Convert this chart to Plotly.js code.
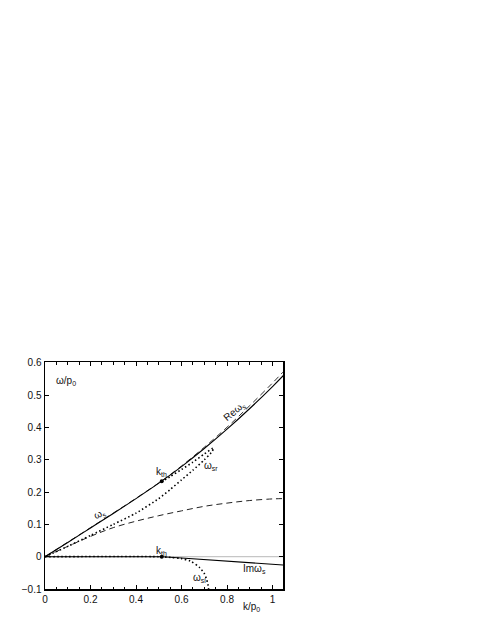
<!DOCTYPE html>
<html>
<head>
<meta charset="utf-8">
<script src="https://cdn.plot.ly/plotly-3.0.1.min.js"></script>
<style>html,body{margin:0;padding:0;background:#fff;}#plot{width:491px;height:635px;}</style>
</head>
<body>
<div id="plot"></div>
<script>
// Re ω_s (solid)
var kRe = [0, 0.1, 0.2, 0.3, 0.4, 0.513, 0.6, 0.7, 0.8, 0.9, 1.0, 1.05];
var reOmegaS = [0, 0.044, 0.089, 0.134, 0.18, 0.234, 0.279, 0.335, 0.395, 0.459, 0.527, 0.563];
// upper dashed (approximation of Re ω_s)
var kDashUp = [0, 0.1, 0.2, 0.3, 0.4, 0.513, 0.6, 0.7, 0.8, 0.9, 1.0, 1.05];
var dashUp = [0, 0.045, 0.09, 0.135, 0.181, 0.235, 0.281, 0.339, 0.401, 0.468, 0.538, 0.575];
// lower dashed
var kDashLow = [0, 0.1, 0.2, 0.3, 0.4, 0.5, 0.6, 0.7, 0.8, 0.9, 1.0, 1.05];
var dashLow = [0, 0.032, 0.063, 0.09, 0.11, 0.127, 0.142, 0.156, 0.166, 0.174, 0.179, 0.18];
// ω_sr (dotted, folds back)
var kSr = [0, 0.1, 0.2, 0.3, 0.4, 0.5, 0.55, 0.6, 0.65, 0.7, 0.73, 0.742, 0.735, 0.7, 0.65, 0.6, 0.55, 0.513];
var omegaSr = [0, 0.032, 0.066, 0.1, 0.135, 0.18, 0.208, 0.238, 0.268, 0.3, 0.322, 0.336, 0.335, 0.318, 0.293, 0.27, 0.248, 0.231];
// Im ω_s (solid)
var kIm = [0, 0.513, 0.6, 0.7, 0.8, 0.9, 1.0, 1.05];
var imOmegaS = [0, 0, -0.004, -0.009, -0.014, -0.019, -0.024, -0.026];
// ω_si (dotted)
var kSi = [0, 0.5, 0.55, 0.6, 0.64, 0.68, 0.7, 0.71, 0.716, 0.719];
var omegaSi = [0, 0, -0.002, -0.006, -0.014, -0.034, -0.052, -0.07, -0.086, -0.1];
// zero reference line
var kZero = [0, 1.05];
var zeroLine = [0, 0];
// k_th markers
var kTh = [0.513, 0.513];
var thVals = [0.234, 0];

var xTicks = [0, 0.2, 0.4, 0.6, 0.8, 1];
var xTickText = ['0', '0.2', '0.4', '0.6', '0.8', '1'];
var yTicks = [-0.1, 0, 0.1, 0.2, 0.3, 0.4, 0.5, 0.6];
var yTickText = ['\u22120.1', '0', '0.1', '0.2', '0.3', '0.4', '0.5', '0.6'];

var traces = [
  {x: kZero, y: zeroLine, mode: 'lines', line: {color: '#b8b8b8', width: 1}},
  {x: kDashLow, y: dashLow, mode: 'lines', line: {color: '#222', width: 1, dash: '6px,4px', shape: 'spline', smoothing: 1}},
  {x: kDashUp, y: dashUp, mode: 'lines', line: {color: '#333', width: 1, dash: '6px,4px', shape: 'spline', smoothing: 1}},
  {x: kRe, y: reOmegaS, mode: 'lines', line: {color: '#000', width: 1.1, shape: 'spline', smoothing: 1}},
  {x: kIm, y: imOmegaS, mode: 'lines', line: {color: '#000', width: 1.1}},
  {x: kSr, y: omegaSr, mode: 'lines', line: {color: '#000', width: 1.6, dash: '1.5px,2.5px', shape: 'spline', smoothing: 0.6}},
  {x: kSi, y: omegaSi, mode: 'lines', line: {color: '#000', width: 1.6, dash: '1.5px,2.5px', shape: 'spline', smoothing: 0.8}},
  {x: kTh, y: thVals, mode: 'markers', marker: {color: '#000', size: 4}}
];

var f = {family: 'Liberation Sans, Arial, sans-serif', size: 10, color: '#111'};
function ann(x, y, t, extra) {
  var a = {x: x, y: y, xref: 'x', yref: 'y', text: t, showarrow: false, font: f};
  for (var k in extra) a[k] = extra[k];
  return a;
}

var layout = {
  width: 491, height: 635,
  margin: {l: 45, r: 208, t: 362, b: 46},
  paper_bgcolor: '#fff', plot_bgcolor: '#fff',
  showlegend: false,
  font: f,
  xaxis: {
    range: [0, 1.046], tickvals: xTicks, ticktext: xTickText,
    ticks: 'inside', ticklen: 4, tickcolor: '#000', tickwidth: 1,
    minor: {dtick: 0.05, ticks: 'inside', ticklen: 2.5, tickcolor: '#000', tickwidth: 1, showgrid: false},
    showline: true, linecolor: '#000', linewidth: 1.5, mirror: 'allticks',
    showgrid: false, zeroline: false, tickfont: f
  },
  yaxis: {
    range: [-0.1, 0.603], tickvals: yTicks, ticktext: yTickText,
    ticks: 'inside', ticklen: 4, tickcolor: '#000', tickwidth: 1,
    showline: true, linecolor: '#000', linewidth: 1.5, mirror: 'allticks',
    showgrid: false, zeroline: false, tickfont: f
  },
  annotations: [
    {x: 0.04, y: 0.545, xref: 'x', yref: 'y', xanchor: 'left', text: '\u03c9/p<sub>0</sub>', showarrow: false, font: f},
    ann(0.835, 0.452, 'Re\u03c9<sub>s</sub>', {textangle: -40}),
    ann(0.242, 0.132, '\u03c9<sub>s</sub>', {textangle: -25}),
    ann(0.51, 0.262, 'k<sub>th</sub>'),
    ann(0.73, 0.28, '\u03c9<sub>sr</sub>'),
    ann(0.51, 0.019, 'k<sub>th</sub>'),
    ann(0.92, -0.037, 'Im\u03c9<sub>s</sub>'),
    ann(0.68, -0.065, '\u03c9<sub>si</sub>'),
    {x: 0.912, y: -0.078, xref: 'paper', yref: 'paper', yanchor: 'middle', text: 'k/p<sub>0</sub>', showarrow: false, font: f}
  ]
};

Plotly.newPlot('plot', traces, layout, {staticPlot: true, displayModeBar: false});
</script>
</body>
</html>
